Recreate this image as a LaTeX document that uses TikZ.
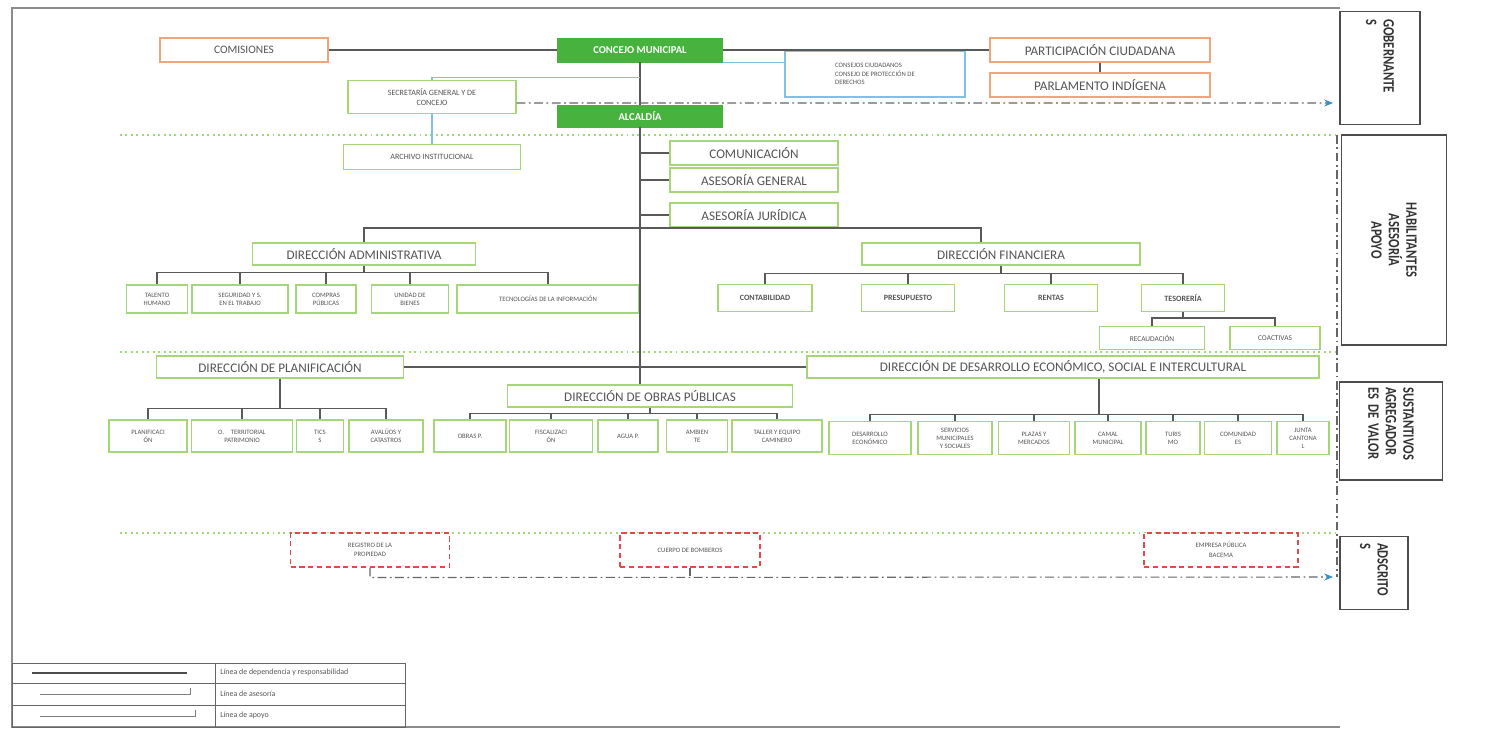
\documentclass[tikz,border=0pt]{standalone}
\usepackage{fontspec}
\setmainfont{Carlito}
\newfontfamily\estrecha[FakeStretch=0.8]{Carlito}
\usetikzlibrary{arrows.meta}

\definecolor{verde}{RGB}{72,178,62}
\definecolor{verdeclaro}{RGB}{165,215,120}
\definecolor{naranja}{RGB}{240,165,125}
\definecolor{celeste}{RGB}{125,195,225}
\definecolor{rojo}{RGB}{228,72,72}
\definecolor{gristxt}{RGB}{85,85,85}
\definecolor{flecha}{RGB}{60,140,200}

\tikzset{
	tam/.style 2 args={minimum width=#1*0.02cm, minimum height=#2*0.02cm},
	caja/.style={draw=verdeclaro, line width=0.7pt, fill=white, text=gristxt, inner sep=1pt, align=center, font=\fontsize{3.8}{4.5}\selectfont},
	cajag/.style={fill=verde, draw=verde, text=white, inner sep=1pt, font=\bfseries\fontsize{6}{7}\selectfont},
	cajan/.style={draw=naranja, line width=0.7pt, fill=white, text=gristxt, inner sep=1pt, font=\fontsize{6.5}{7.5}\selectfont},
	cajaz/.style={draw=celeste, line width=0.7pt, fill=white, text=gristxt, inner sep=3pt, align=left, font=\fontsize{3.8}{5}\selectfont},
	cajar/.style={draw=rojo, densely dashed, line width=0.6pt, fill=white, text=gristxt, inner sep=1pt, align=center, font=\fontsize{3.8}{5.5}\selectfont},
	dir/.style={caja, font=\fontsize{7.5}{9}\selectfont},
	fin/.style={caja, font=\bfseries\fontsize{4.6}{5.5}\selectfont},
	cat/.style={draw=black!70, line width=0.8pt, fill=white, rotate=-90, inner sep=3pt, text=black!80, font=\estrecha\bfseries\fontsize{9}{10}\selectfont},
	lin/.style={draw=black!65, line width=0.9pt},
	aux/.style={draw=celeste, line width=0.8pt},
	sep/.style={draw=verdeclaro, dotted, line width=1.1pt},
	rayapunto/.style={draw=black!60, line width=0.6pt, dash pattern=on 5pt off 2pt on 1pt off 2pt},
	punta/.style={-{Stealth[length=5pt, width=4pt, color=flecha]}},
	leyenda/.style={anchor=west, inner sep=0pt, text=gristxt, font=\fontsize{4.5}{5}\selectfont}
}

\begin{document}
\begin{tikzpicture}[x=0.02cm, y=-0.02cm]
	\useasboundingbox (0,0) rectangle (1493,732);

	% marco
	\draw[black!45, line width=0.6pt] (1340,8) -- (12,8) -- (12,727) -- (1340,727);

	% separadores de niveles
	\draw[sep] (120,135) -- (1335,135);
	\draw[sep] (120,352) -- (1335,352);
	\draw[sep] (120,533) -- (1335,533);
	\draw[rayapunto] (1337,135) -- (1337,577);

	% nivel gobernante
	\node[cajan, tam={168}{24}] (comi) at (244,50) {COMISIONES};
	\node[cajag, tam={165}{24}] (conc) at (640,50) {CONCEJO MUNICIPAL};
	\node[cajaz, tam={180}{46}] (cons) at (875,74) {CONSEJOS CIUDADANOS\\CONSEJO DE PROTECCIÓN DE\\DERECHOS};
	\node[cajan, tam={220}{24}, font=\fontsize{7.5}{9}\selectfont] (part) at (1100,50) {PARTICIPACIÓN CIUDADANA};
	\node[cajan, tam={220}{24}, font=\fontsize{7.5}{9}\selectfont] (parl) at (1100,85) {PARLAMENTO INDÍGENA};
	\node[caja, tam={168}{33}, font=\fontsize{4.6}{5.5}\selectfont] (secr) at (432,97) {SECRETARÍA GENERAL Y DE\\CONCEJO};
	\node[cajag, tam={165}{22}] (alc) at (640,116) {ALCALDÍA};

	% nivel de apoyo
	\node[caja, tam={177}{25}, font=\fontsize{4.6}{5.5}\selectfont] (arch) at (432,157) {ARCHIVO INSTITUCIONAL};
	\node[dir, tam={168}{24}] (comu) at (754,153) {COMUNICACIÓN};
	\node[dir, tam={168}{24}] (aseg) at (754,180) {ASESORÍA GENERAL};
	\node[dir, tam={168}{24}] (asej) at (754,215) {ASESORÍA JURÍDICA};

	\node[dir, tam={223}{22}] (dadm) at (364,254) {DIRECCIÓN ADMINISTRATIVA};
	\node[caja, tam={61}{28}] (thum) at (157,299) {TALENTO\\HUMANO};
	\node[caja, tam={96}{28}] (segt) at (240,299) {SEGURIDAD Y S.\\EN EL TRABAJO};
	\node[caja, tam={60}{28}] (cpub) at (326,299) {COMPRAS\\PÚBLICAS};
	\node[caja, tam={77}{28}] (ubie) at (410,299) {UNIDAD DE\\BIENES};
	\node[caja, tam={182}{28}] (tinf) at (548,299) {TECNOLOGÍAS DE LA INFORMACIÓN};

	\node[dir, tam={278}{22}] (dfin) at (1001,254) {DIRECCIÓN FINANCIERA};
	\node[fin, tam={94}{27}] (cont) at (765,298) {CONTABILIDAD};
	\node[fin, tam={93}{27}] (pres) at (908,298) {PRESUPUESTO};
	\node[fin, tam={93}{27}] (rent) at (1051,298) {RENTAS};
	\node[fin, tam={83}{27}] (teso) at (1183,298) {TESORERÍA};
	\node[caja, tam={105}{23}, font=\fontsize{4.2}{5}\selectfont] (reca) at (1152,338) {RECAUDACIÓN};
	\node[caja, tam={90}{23}, font=\fontsize{4.2}{5}\selectfont] (coac) at (1275,338) {COACTIVAS};

	% nivel sustantivo
	\node[dir, tam={247}{22}] (dpla) at (280,367) {DIRECCIÓN DE PLANIFICACIÓN};
	\node[dir, tam={512}{22}] (ddes) at (1063,367) {DIRECCIÓN DE DESARROLLO ECONÓMICO, SOCIAL E INTERCULTURAL};
	\node[dir, tam={285}{22}] (dobr) at (650,396) {DIRECCIÓN DE OBRAS PÚBLICAS};

	\node[caja, tam={78}{32}] (plan) at (148,436) {PLANIFICACI\\ÓN};
	\node[caja, tam={101}{32}] (oter) at (242,436) {O.\quad TERRITORIAL\\PATRIMONIO};
	\node[caja, tam={47}{32}] (tics) at (320,436) {TICS\\S};
	\node[caja, tam={74}{32}] (aval) at (386,436) {AVALÚOS Y\\CATASTROS};

	\node[caja, tam={72}{32}] (obrp) at (470,436) {OBRAS P.};
	\node[caja, tam={83}{32}] (fisc) at (551,436) {FISCALIZACI\\ÓN};
	\node[caja, tam={60}{32}] (agua) at (628,436) {AGUA P.};
	\node[caja, tam={61}{32}] (ambi) at (697,436) {AMBIEN\\TE};
	\node[caja, tam={90}{32}] (tall) at (777,436) {TALLER Y EQUIPO\\CAMINERO};

	\node[caja, tam={82}{33}] (deco) at (870,438) {DESARROLLO\\ECONÓMICO};
	\node[caja, tam={74}{33}] (serv) at (955,438) {SERVICIOS\\MUNICIPALES\\Y SOCIALES};
	\node[caja, tam={71}{33}] (plaz) at (1034,438) {PLAZAS Y\\MERCADOS};
	\node[caja, tam={66}{33}] (cama) at (1108,438) {CAMAL\\MUNICIPAL};
	\node[caja, tam={54}{33}] (turi) at (1173,438) {TURIS\\MO};
	\node[caja, tam={67}{33}] (comd) at (1238,438) {COMUNIDAD\\ES};
	\node[caja, tam={52}{33}] (junt) at (1303,438) {JUNTA\\CANTONA\\L};

	% nivel adscrito
	\node[cajar, tam={159}{34}] (regi) at (370,550) {REGISTRO DE LA\\PROPIEDAD};
	\node[cajar, tam={140}{34}] (bomb) at (690,550) {CUERPO DE BOMBEROS};
	\node[cajar, tam={154}{34}] (empr) at (1221,550) {EMPRESA PÚBLICA\\BACEMA};

	% niveles (columna derecha)
	\node[cat, tam={113}{80}, text width=1.95cm, align=left] (ngob) at (1380,68) {GOBERNANTE\\S};
	\node[cat, tam={210}{105}, align=center] (nhab) at (1394,240) {HABILITANTES\\ASESORÍA\\APOYO};
	\node[cat, tam={97}{103}, text width=1.75cm, align=left] (nsus) at (1391,431) {SUSTANTIVOS\\AGREGADOR\\ES DE VALOR};
	\node[cat, tam={73}{68}, text width=1.2cm, align=left] (nads) at (1374,573) {ADSCRITO\\S};

	% lineas de dependencia
	\draw[lin] (comi.east) -- (conc.west);
	\draw[lin] (conc.east) -- (part.west);
	\draw[lin] (part.south) -- (parl.north);
	\draw[lin] (conc.south) -- (alc.north);
	\draw[lin] (alc.south) -- (alc.south |- dobr.north);
	\foreach \n in {comu,aseg,asej}
		\draw[lin] (alc.south |- \n.west) -- (\n.west);

	\coordinate (cruce) at (640,228);
	\draw[lin] (dadm.north) |- (cruce) -| ([xshift=-0.4cm]dfin.north);

	\draw[lin] (dadm.south) -- ++(0,7) coordinate (badm);
	\foreach \n in {thum,segt,cpub,ubie,tinf}
		\draw[lin] (badm) -| (\n.north);

	\draw[lin] (dfin.south) -- ++(0,8) coordinate (bfin);
	\foreach \n in {cont,pres,rent,teso}
		\draw[lin] (bfin) -| (\n.north);

	\draw[lin] (teso.south) -- ++(0,6) coordinate (bteso);
	\foreach \n in {reca,coac}
		\draw[lin] (bteso) -| (\n.north);

	\draw[lin, line width=1.4pt] (dpla.east) -- (ddes.west);

	\draw[lin] (dpla.south) -- ++(0,30) coordinate (bpla);
	\foreach \n in {plan,oter,tics,aval}
		\draw[lin] (bpla) -| (\n.north);

	\draw[lin] (dobr.south) -- ++(0,6) coordinate (bobr);
	\foreach \n in {obrp,fisc,agua,ambi,tall}
		\draw[lin] (bobr) -| (\n.north);

	\draw[lin] ([xshift=0.72cm]ddes.south) -- ++(0,36) coordinate (bdes);
	\foreach \n in {deco,serv,plaz,cama,turi,comd,junt}
		\draw[lin] (bdes) -| (\n.north);

	% lineas de asesoria
	\draw[aux] (conc.south) ++(0,15) -| (secr.north);
	\draw[aux] (conc.south east) -- (conc.south east -| cons.west);
	\draw[aux] (secr.south) -- (arch.north);

	% lineas de apoyo
	\draw[rayapunto, punta] ([yshift=-0.12cm]secr.east) -- (1333,103);
	\draw[rayapunto, punta] (regi.south) -- ++(0,10) -- (1333,577);
	\draw[rayapunto] (bomb.south) -- ++(0,10);

	% leyenda
	\draw[black!60, line width=0.5pt] (12,663) rectangle (405,727);
	\draw[black!60, line width=0.5pt] (215,663) -- (215,727);
	\draw[black!60, line width=0.5pt] (12,683) -- (405,683);
	\draw[black!60, line width=0.5pt] (12,705) -- (405,705);
	\draw[black!70, line width=1.2pt] (32,673) -- (187,673);
	\draw[black!50, line width=0.5pt] (40,694) -- (190,694) -- (190,688);
	\draw[black!50, line width=0.5pt] (40,716) -- (195,716) -- (195,710);
	\node[leyenda] (ley1) at (220,672) {Línea de dependencia y responsabilidad};
	\node[leyenda] (ley2) at (220,694) {Línea de asesoría};
	\node[leyenda] (ley3) at (220,715) {Línea de apoyo};
\end{tikzpicture}
\end{document}
